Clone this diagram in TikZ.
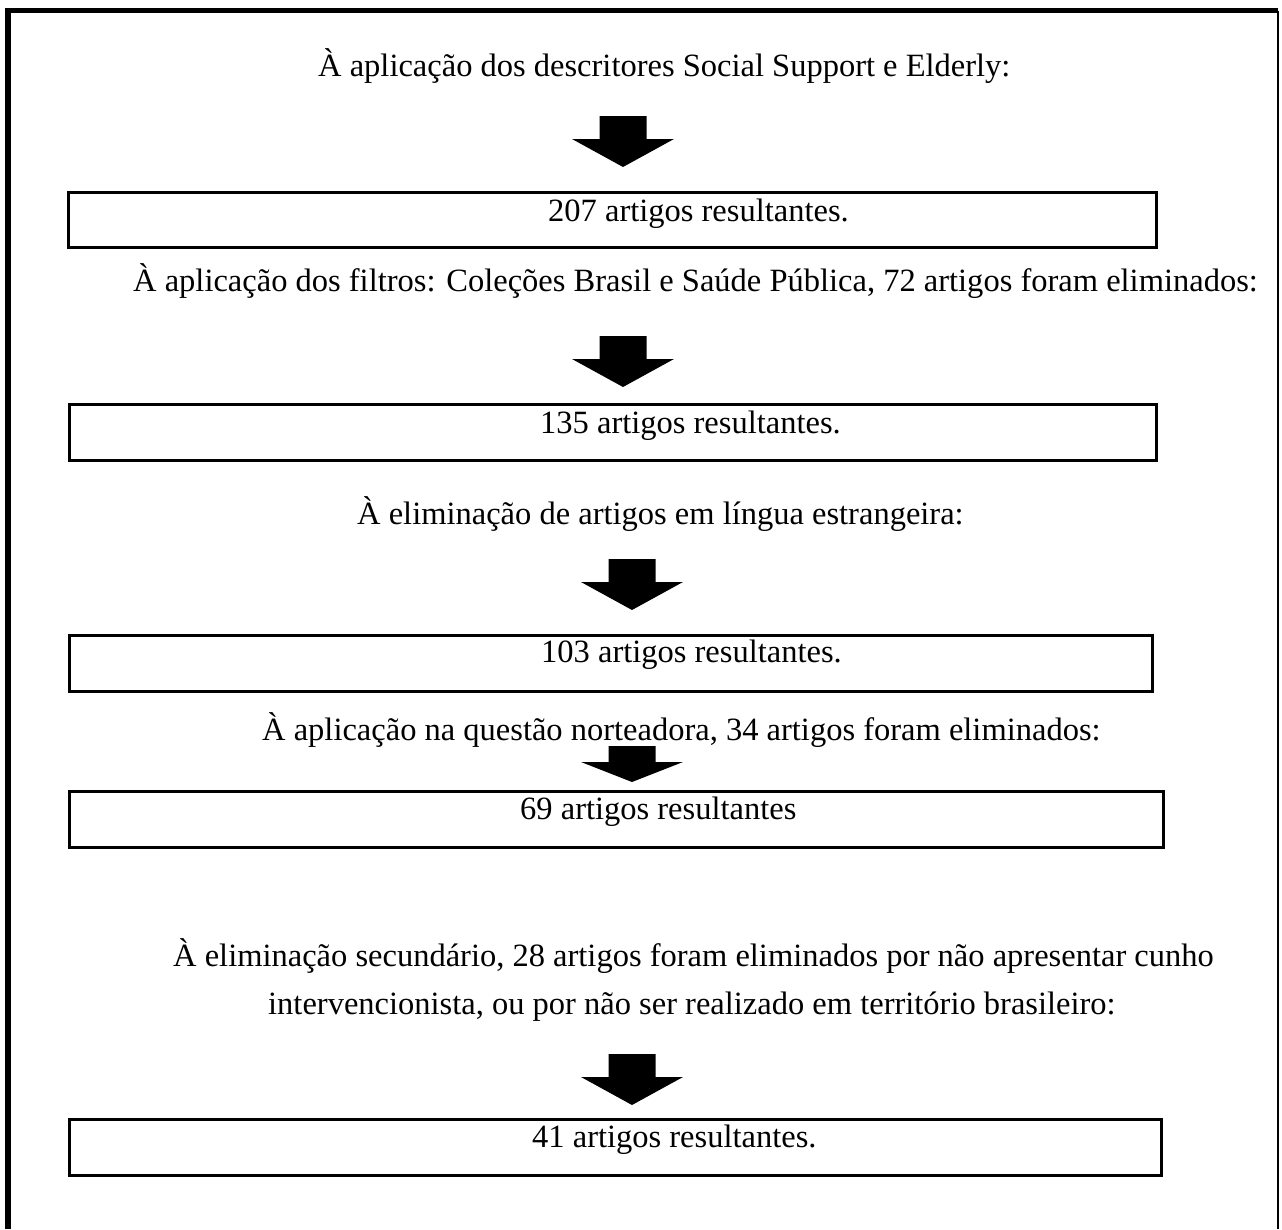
\documentclass[tikz,border=0pt]{standalone}
\usepackage{fontspec}
\setmainfont{Liberation Serif}
\begin{document}
\begin{tikzpicture}[x=1pt,y=-1pt,
  txt/.style={anchor=base west,inner sep=0pt,font=\fontsize{32.5}{40}\selectfont},
  resbox/.style={draw,line width=3pt},
  blockarrow/.pic={\fill (-23.5,0) -- (23.5,0) -- (23.5,23) -- (51,23) -- (0,51) -- (-51,23) -- (-23.5,23) -- cycle;},
  shortarrow/.pic={\fill (-23.5,0) -- (23.5,0) -- (23.5,16) -- (51,16) -- (0,36) -- (-51,16) -- (-23.5,16) -- cycle;}
]
\useasboundingbox (0,0) rectangle (1282,1229);
% outer frame (open at the bottom)
\draw[line width=5.5pt] (8,1229) -- (8,10.5) -- (1278,10.5);
\draw[line width=2pt] (1278,10.5) -- (1278,1229);

% step 1
\node[txt] (t1) at (318,76) {À aplicação dos descritores Social Support e Elderly:};
\pic at (623,116) {blockarrow};
\draw[resbox] (68,192) rectangle (1156,247);
\node[txt] (r1) at (548,221) {207 artigos resultantes.};

% step 2
\node[txt] (t2) at (133,291) {À aplicação dos filtros: Coleções Brasil e Saúde Pública, 72 artigos foram eliminados:};
\pic at (623,336) {blockarrow};
\draw[resbox] (69,404) rectangle (1156,460);
\node[txt] (r2) at (540,433) {135 artigos resultantes.};

% step 3
\node[txt] (t3) at (357,524) {À eliminação de artigos em língua estrangeira:};
\pic at (632,559) {blockarrow};
\draw[resbox] (69,635) rectangle (1152,691);
\node[txt] (r3) at (541,662) {103 artigos resultantes.};

% step 4
\node[txt] (t4) at (262,740) {À aplicação na questão norteadora, 34 artigos foram eliminados:};
\pic at (632,746) {shortarrow};
\draw[resbox] (69,791) rectangle (1163,847);
\node[txt] (r4) at (520,819) {69 artigos resultantes};

% step 5
\node[txt] (t5) at (173,966) {À eliminação secundário, 28 artigos foram eliminados por não apresentar cunho};
\node[txt] (t6) at (268,1014) {intervencionista, ou por não ser realizado em território brasileiro:};
\pic at (632,1054) {blockarrow};
\draw[resbox] (69,1119) rectangle (1161,1175);
\node[txt] (r5) at (532,1147) {41 artigos resultantes.};
\end{tikzpicture}
\end{document}
